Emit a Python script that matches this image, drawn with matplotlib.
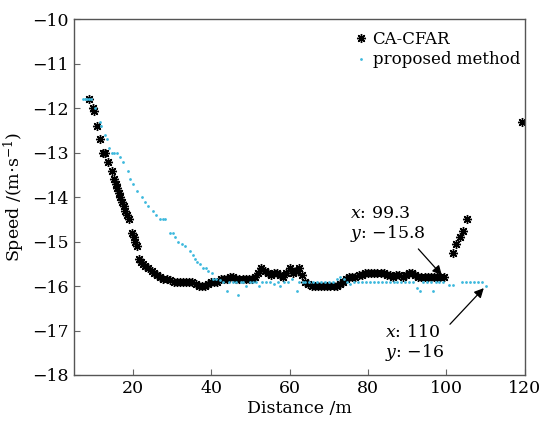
import matplotlib
matplotlib.use("Agg")
import matplotlib.pyplot as plt

# CA-CFAR detections (distance m, speed m/s)
cfar_x = [8.9, 9.8, 10.1, 10.8, 11.6, 12.3, 12.8, 13.7, 14.6, 15.3, 15.7, 16.0, 16.4,
          16.8, 17.3, 17.7, 18.1, 18.5, 19.0, 19.8, 20.3, 20.6, 21.0, 21.6, 22.0, 22.6,
          23.2, 24.0, 24.8, 25.5, 26.3, 27.0, 27.8, 28.6, 29.5, 30.4, 31.2, 32.0, 32.8,
          33.6, 34.4, 35.2, 36.0, 36.8, 37.6, 38.4, 39.2, 40.0, 40.8, 41.6, 42.4, 43.2,
          44.0, 44.8, 45.6, 46.4, 47.2, 48.0, 48.8, 49.6, 50.4, 51.2, 52.0, 52.8, 53.6,
          54.4, 55.2, 56.0, 56.8, 57.6, 58.4, 59.2, 60.0, 60.8, 61.6, 62.4, 63.2, 64.0,
          64.8, 65.6, 66.4, 67.2, 68.0, 68.8, 69.6, 70.4, 71.2, 72.0, 72.8, 73.6, 74.4,
          75.2, 76.0, 76.8, 77.6, 78.4, 79.2, 80.0, 80.8, 81.6, 82.4, 83.2, 84.0, 84.8,
          85.6, 86.4, 87.2, 88.0, 88.8, 89.6, 90.4, 91.2, 92.0, 92.8, 93.6, 94.4, 95.2,
          96.0, 96.8, 97.6, 98.4, 99.3, 101.7, 102.5, 103.4, 104.2, 105.2, 119.3]
cfar_y = [-11.8, -12.0, -12.05, -12.4, -12.7, -13.0, -13.0, -13.2, -13.4, -13.6, -13.7,
          -13.8, -13.9, -14.0, -14.1, -14.2, -14.3, -14.4, -14.5, -14.8, -14.9, -15.0,
          -15.1, -15.4, -15.45, -15.5, -15.55, -15.6, -15.65, -15.7, -15.75, -15.8,
          -15.85, -15.85, -15.87, -15.9, -15.9, -15.9, -15.9, -15.9, -15.9, -15.9,
          -15.95, -16.0, -16.0, -16.0, -15.95, -15.9, -15.9, -15.9, -15.85, -15.85,
          -15.85, -15.8, -15.8, -15.85, -15.85, -15.85, -15.85, -15.85, -15.85, -15.8,
          -15.7, -15.6, -15.65, -15.7, -15.75, -15.7, -15.7, -15.75, -15.8, -15.7,
          -15.6, -15.7, -15.65, -15.6, -15.75, -15.9, -15.95, -16.0, -16.0, -16.0,
          -16.0, -16.0, -16.0, -16.0, -16.0, -16.0, -15.95, -15.9, -15.85, -15.8, -15.8,
          -15.8, -15.75, -15.75, -15.7, -15.7, -15.7, -15.7, -15.7, -15.7, -15.7,
          -15.75, -15.75, -15.8, -15.75, -15.75, -15.8, -15.75, -15.7, -15.7, -15.75,
          -15.8, -15.8, -15.8, -15.8, -15.8, -15.8, -15.8, -15.8, -15.8, -15.25, -15.05,
          -14.9, -14.75, -14.5, -12.3]

# proposed method
prop_x = [7.3, 7.8, 8.3, 8.8, 9.3, 10.4, 11.6, 12.0, 12.9, 13.3, 14.0, 14.6, 15.2, 15.9,
          16.7, 17.6, 18.7, 19.3, 20.1, 21.0, 22.3, 23.2, 24.0, 25.2, 26.0, 27.0, 27.6,
          28.3, 29.5, 30.2, 30.8, 31.6, 32.5, 33.3, 34.6, 35.3, 35.9, 36.5, 37.1, 38.0,
          38.6, 39.3, 40.1, 40.5, 41.2, 42.2, 43.0, 43.9, 44.5, 45.6, 46.3, 46.9, 47.5,
          48.2, 49.0, 50.0, 50.7, 51.5, 52.3, 53.0, 54.0, 55.0, 56.0, 57.0, 57.6, 58.5,
          59.5, 60.5, 61.8, 62.5, 63.3, 64.0, 65.0, 66.0, 67.0, 68.0, 69.0, 70.0, 71.0,
          72.0, 72.9, 73.8, 74.6, 75.4, 76.5, 77.5, 78.5, 79.6, 80.5, 81.5, 82.5, 83.5,
          84.5, 85.5, 86.5, 87.5, 88.5, 89.5, 90.5, 91.5, 92.4, 93.3, 94.0, 95.0, 96.0,
          96.6, 97.3, 98.2, 99.0, 100.7, 101.7, 104.0, 105.0, 106.0, 107.0, 108.0,
          109.0, 110.0]
prop_y = [-11.8, -11.8, -11.8, -11.8, -11.8, -12.0, -12.3, -12.4, -12.6, -12.7, -12.9,
          -13.0, -13.0, -13.0, -13.1, -13.2, -13.4, -13.6, -13.7, -13.85, -14.0, -14.1,
          -14.2, -14.3, -14.4, -14.5, -14.5, -14.5, -14.8, -14.8, -14.9, -15.0, -15.05,
          -15.1, -15.2, -15.3, -15.4, -15.45, -15.5, -15.6, -15.6, -15.65, -15.7,
          -15.85, -15.85, -15.87, -15.9, -16.1, -15.9, -15.9, -15.9, -16.2, -15.9, -15.9,
          -16.0, -15.9, -15.9, -15.9, -16.0, -15.9, -15.9, -15.9, -15.95, -15.9, -16.0,
          -15.9, -15.9, -15.85, -16.1, -15.9, -15.9, -15.9, -15.9, -15.9, -15.9, -15.9,
          -15.9, -15.9, -15.9, -15.85, -15.8, -15.85, -15.9, -15.95, -15.9, -15.9,
          -15.9, -15.9, -15.9, -15.9, -15.9, -15.9, -15.9, -15.9, -15.9, -15.9, -15.9,
          -15.9, -15.9, -15.9, -16.05, -16.1, -15.9, -15.9, -15.9, -16.1, -15.9, -15.9,
          -15.9, -15.98, -15.98, -15.9, -15.9, -15.9, -15.9, -15.9, -15.9, -16.0]

plt.rcParams['font.family'] = 'DejaVu Serif'
plt.rcParams['mathtext.fontset'] = 'dejavuserif'
plt.rcParams['font.size'] = 12

fig = plt.figure(figsize=(5.4, 4.23), dpi=100)
ax = fig.add_axes([0.137, 0.1135, 0.835, 0.8405])

ax.plot(cfar_x, cfar_y, linestyle='none', marker=(8, 2, 0), markersize=6.5,
        markeredgewidth=1.0, color='black', label='CA-CFAR')
ax.plot(prop_x, prop_y, linestyle='none', marker='o', markersize=2,
        markeredgewidth=0, color='#3db8dd', label='proposed method')

ax.set_xlim(5, 120)
ax.set_ylim(-18, -10)
ax.set_xticks([20, 40, 60, 80, 100, 120])
ax.set_yticks(range(-18, -9))
ax.set_yticklabels(['\u221218', '\u221217', '\u221216', '\u221215', '\u221214',
                    '\u221213', '\u221212', '\u221211', '\u221210'])
ax.tick_params(direction='in', length=4, color='#666666', labelsize=12.5)
for s in ax.spines.values():
    s.set_color('#555555')
    s.set_linewidth(1.0)

ax.set_xlabel('Distance /m', fontsize=12.5, labelpad=2)
ax.set_ylabel('Speed /(m$\\cdot$s$^{-1}$)', fontsize=12.5, labelpad=4)

ax.legend(loc='upper right', frameon=False, fontsize=12, handletextpad=0.3,
          handlelength=0.8, borderaxespad=0.3, labelspacing=0.2,
          bbox_to_anchor=(1.015, 1.0))

ax.annotate('$x$: 99.3\n$y$: \u221215.8', xy=(99.3, -15.8), xytext=(75.4, -14.92),
            fontsize=12.5, linespacing=1.05,
            arrowprops=dict(arrowstyle='-|>', color='black', lw=0.9,
                            shrinkA=2, shrinkB=2, mutation_scale=14,
                            relpos=(0.85, 0.0)))
ax.annotate('$x$: 110\n$y$: \u221216', xy=(110, -16.0), xytext=(84.3, -17.6),
            fontsize=12.5, linespacing=1.05,
            arrowprops=dict(arrowstyle='-|>', color='black', lw=0.9,
                            shrinkA=3, shrinkB=2, mutation_scale=14,
                            relpos=(1.0, 0.85)))

fig.savefig('out.png', dpi=100)
